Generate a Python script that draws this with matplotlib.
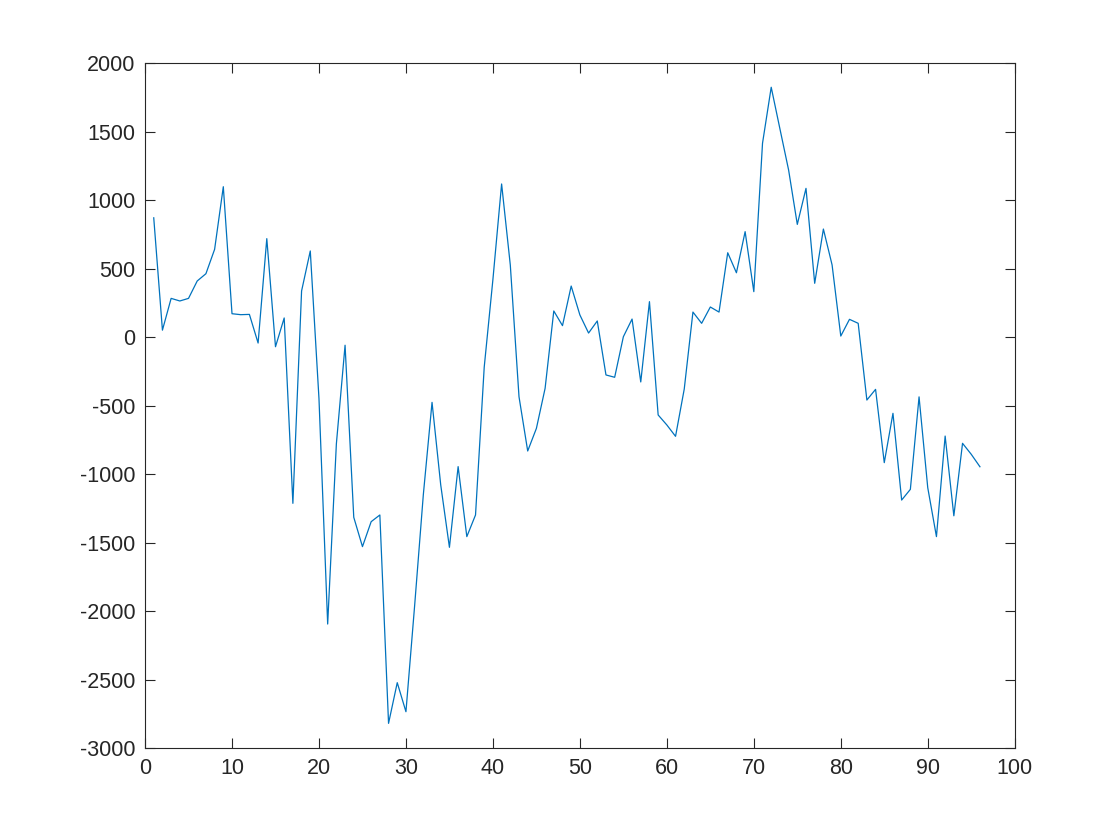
import matplotlib
matplotlib.use("Agg")
import matplotlib.pyplot as plt

x_values = list(range(1, 97))
y_values = [
    870, 50, 282, 263, 282, 409, 462, 640, 1097, 170,
    163, 165, -44, 718, -71, 139, -1214, 336, 628, -450,
    -2095, -780, -60, -1316, -1530, -1348, -1299, -2820, -2523, -2735,
    -1960, -1150, -477, -1080, -1535, -946, -1457, -1299, -220, 420,
    1117, 525, -436, -832, -667, -375, 190, 83, 372, 161,
    29, 117, -277, -294, 2, 131, -328, 258, -569, -642,
    -725, -380, 182, 100, 219, 182, 615, 469, 769, 331,
    1414, 1823, 1520, 1219, 822, 1085, 392, 788, 526, 7,
    129, 100, -460, -382, -917, -557, -1190, -1112, -437, -1100,
    -1457, -723, -1305, -776, -856, -947,
]
x_ticks = [0, 10, 20, 30, 40, 50, 60, 70, 80, 90, 100]
y_ticks = [-3000, -2500, -2000, -1500, -1000, -500, 0, 500, 1000, 1500, 2000]

plt.rcParams['font.family'] = ['Liberation Sans', 'DejaVu Sans']
plt.rcParams['axes.unicode_minus'] = False
fig = plt.figure(figsize=(11.2, 8.4), dpi=100)
ax = fig.add_axes([0.1295, 0.1095, 0.7765, 0.8155])
ax.plot(x_values, y_values, color='#0072BD', linewidth=0.9)
ax.set_xlim(0, 100)
ax.set_ylim(-3000, 2000)
ax.set_xticks(x_ticks)
ax.set_yticks(y_ticks)
axc = '#262626'
for s in ax.spines.values():
    s.set_color(axc)
    s.set_linewidth(0.8)
ax.tick_params(direction='in', length=7, width=0.8, colors=axc, labelsize=15.5,
               top=True, right=True, labelcolor=axc, pad=7)
fig.savefig('out.png', dpi=100, facecolor='white')
